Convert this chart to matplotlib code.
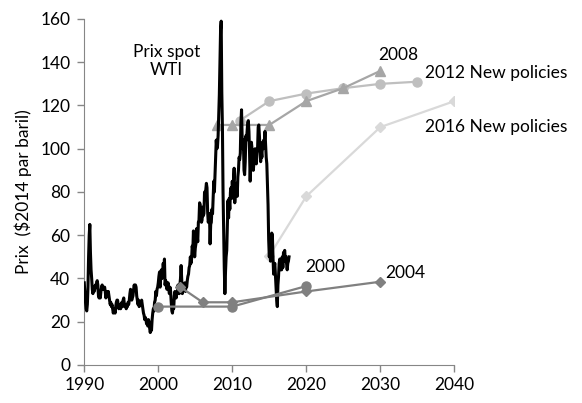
import matplotlib
matplotlib.use("Agg")
import matplotlib.pyplot as plt
import numpy as np

plt.rcParams["font.family"] = ["Lato", "DejaVu Sans"]

# --- WTI spot price, $2014 per barrel, monthly values ---
wti_start = 1990
wti_monthly = [
    38, 33, 29, 26, 25, 28, 36, 50, 60, 65, 52, 44,     # 1990
    40, 35, 33, 36, 34, 35, 37, 36, 38, 39, 37, 32,     # 1991
    31, 32, 31, 34, 36, 37, 35, 36, 35, 36, 34, 31,     # 1992
    33, 34, 33, 34, 32, 30, 28, 29, 27, 28, 26, 24,     # 1993
    25, 26, 24, 27, 29, 30, 30, 28, 26, 27, 28, 26,     # 1994
    28, 29, 27, 30, 31, 28, 27, 28, 26, 27, 27, 29,     # 1995
    28, 30, 33, 35, 31, 30, 31, 32, 35, 37, 35, 37,     # 1996
    36, 32, 30, 28, 30, 27, 28, 29, 28, 30, 28, 26,     # 1997
    24, 23, 21, 22, 21, 19, 20, 18, 21, 20, 17, 15,     # 1998
    17, 16, 21, 24, 26, 25, 29, 30, 34, 32, 35, 36,     # 1999
    38, 41, 43, 36, 41, 44, 40, 43, 47, 44, 49, 37,     # 2000
    39, 38, 35, 37, 38, 35, 33, 36, 34, 29, 25, 24,     # 2001
    27, 26, 32, 34, 32, 31, 33, 34, 37, 35, 33, 37,     # 2002
    40, 46, 39, 33, 35, 37, 36, 38, 34, 37, 36, 39,     # 2003
    41, 42, 45, 46, 50, 47, 49, 55, 53, 62, 56, 50,     # 2004
    54, 56, 63, 60, 57, 66, 67, 75, 74, 70, 66, 67,     # 2005
    73, 69, 70, 80, 78, 81, 84, 82, 71, 66, 67, 70,     # 2006
    56, 65, 66, 72, 70, 77, 85, 80, 88, 95, 104, 100,   # 2007
    101, 106, 116, 125, 140, 155, 159, 126, 110, 80, 62, 45,  # 2008
    33, 43, 50, 53, 64, 76, 68, 77, 72, 80, 82, 77,     # 2009
    85, 80, 86, 91, 75, 80, 78, 84, 78, 87, 90, 96,     # 2010
    95, 98, 112, 118, 105, 100, 104, 90, 88, 94, 106, 104,  # 2011
    108, 112, 113, 108, 98, 85, 95, 103, 100, 94, 90, 93,   # 2012
    99, 100, 96, 93, 98, 100, 110, 111, 106, 100, 94, 99,   # 2013
    96, 103, 100, 104, 103, 108, 102, 96, 93, 83, 74, 58,   # 2014
    50, 53, 48, 56, 61, 60, 50, 42, 46, 47, 41, 36,     # 2015
    30, 27, 37, 41, 47, 49, 44, 45, 44, 50, 45, 52,     # 2016
    52, 53, 48, 50, 47, 44, 47, 48, 50,                 # 2017
]
wti_years = wti_start + np.arange(len(wti_monthly)) / 12.0

# --- Forecast vintages ---
y2000_years = [2000, 2010, 2020]
y2000_vals = [27, 27, 36.5]

y2004_years = [2003, 2006, 2010, 2020, 2030]
y2004_vals = [36, 29, 29, 34, 38.5]

y2008_years = [2008, 2010, 2015, 2020, 2025, 2030]
y2008_vals = [111, 111, 111, 122, 128, 136]

y2012_years = [2011, 2015, 2020, 2025, 2030, 2035]
y2012_vals = [113, 122, 125.5, 128, 130, 131]

y2016_years = [2015, 2020, 2030, 2040]
y2016_vals = [50.5, 78, 110, 122]

DARK = "#808080"
MID = "#a6a6a6"
LIGHT = "#bfbfbf"
PALE = "#d9d9d9"
AXIS = "#868686"

fig = plt.figure(figsize=(5.82, 4.03), dpi=100)
ax = fig.add_axes([0.1448, 0.0943, 0.6358, 0.8586])

ax.plot(wti_years, wti_monthly, color="black", lw=2.2, zorder=3)

ax.plot(y2016_years, y2016_vals, color=PALE, lw=1.6, marker="D", ms=5.5, zorder=2)
ax.plot(y2012_years, y2012_vals, color=LIGHT, lw=1.6, marker="o", ms=6.5, zorder=2)
ax.plot(y2008_years, y2008_vals, color=MID, lw=1.6, marker="^", ms=7.5, zorder=2)
ax.plot(y2000_years, y2000_vals, color=DARK, lw=1.6, marker="o", ms=6.5, zorder=4)
ax.plot(y2004_years, y2004_vals, color=DARK, lw=1.6, marker="D", ms=5.5, zorder=4)

fs = 12.5
ax.text(2001.1, 140.5, "Prix spot\nWTI", ha="center", va="center", fontsize=fs,
        linespacing=1.15)
ax.text(2029.7, 143.3, "2008", ha="left", va="center", fontsize=fs)
ax.text(2036.0, 134.9, "2012 New policies", ha="left", va="center", fontsize=fs)
ax.text(2036.0, 110.0, "2016 New policies", ha="left", va="center", fontsize=fs)
ax.text(2019.9, 45.5, "2000", ha="left", va="center", fontsize=fs)
ax.text(2030.6, 42.7, "2004", ha="left", va="center", fontsize=fs)

ax.set_xlim(1990, 2040)
ax.set_ylim(0, 160)
ax.set_xticks(range(1990, 2041, 10))
ax.set_yticks(range(0, 161, 20))
ax.tick_params(labelsize=fs, direction="out", length=5, color=AXIS, width=1)
ax.tick_params(axis="y", pad=5)
ax.spines[["top", "right"]].set_visible(False)
ax.spines[["left", "bottom"]].set_color(AXIS)
ax.set_ylabel("Prix  ($2014 par baril)", fontsize=fs, labelpad=6)

plt.savefig("out.png", dpi=100, facecolor="white")
